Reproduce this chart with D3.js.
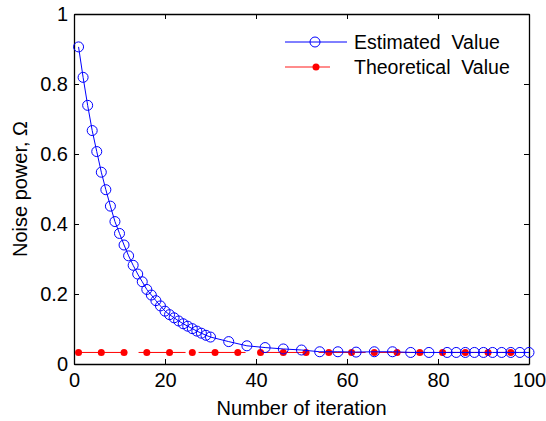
<!DOCTYPE html>
<html>
<head>
<meta charset="utf-8">
<script src="https://cdn.jsdelivr.net/npm/d3@7"></script>
<style>
  body { margin: 0; background: #fff; }
  text { font-family: "Liberation Sans", Arial, sans-serif; fill: #000; }
</style>
</head>
<body>
<svg id="chart"></svg>
<script>
// estimated noise power (markers as plotted)
var estX = [1,2,3,4,5,6,7,8,9,10,11,12,13,14,15,16,17,18,19,20,21,22,23,24,25,26,27,28,29,30,
            34,38,42,46,50,54,58,62,66,70,74,78,82,84,86,88,90,92,94,96,98,100]
var estY = [0.906,0.819,0.739,0.667,0.607,0.548,0.498,0.451,0.407,0.373,0.340,0.309,0.282,0.257,0.235,
            0.213,0.197,0.181,0.166,0.151,0.141,0.132,0.123,0.115,0.108,0.101,0.094,0.088,0.082,0.077,
            0.064,0.052,0.047,0.043,0.040,0.035,0.035,0.034,0.035,0.035,0.033,0.033,0.033,0.033,0.033,
            0.033,0.033,0.033,0.033,0.033,0.033,0.033]
// theoretical value
var theoX = [1,6,11,16,21,26,31,36,41,46,51,56,61,66,71,76,81,86,91,96]
var theoVal = 0.033

var xTicks = [0,20,40,60,80,100]
var yTicks = [0,0.2,0.4,0.6,0.8,1]
var legendNames = ["Estimated  Value", "Theoretical  Value"]

var width = 546, height = 421
var plot = {left: 74, right: 529, top: 14, bottom: 364}

var svg = d3.select("#chart").attr("width", width).attr("height", height)

var x = d3.scaleLinear().domain([0, 100]).range([plot.left, plot.right])
var y = d3.scaleLinear().domain([0, 1]).range([plot.bottom, plot.top])

var fmt = function(d){ return String(+d.toFixed(1)) }

// axes with inward ticks on all four sides
svg.append("g").attr("transform", "translate(0," + plot.bottom + ")")
  .call(d3.axisBottom(x).tickValues(xTicks).tickSizeInner(-5).tickSizeOuter(0).tickPadding(9))
svg.append("g").attr("transform", "translate(0," + plot.top + ")")
  .call(d3.axisTop(x).tickValues(xTicks).tickSizeInner(-5).tickSizeOuter(0).tickFormat(""))
svg.append("g").attr("transform", "translate(" + plot.left + ",0)")
  .call(d3.axisLeft(y).tickValues(yTicks).tickSizeInner(-5).tickSizeOuter(0).tickPadding(6).tickFormat(fmt))
svg.append("g").attr("transform", "translate(" + plot.right + ",0)")
  .call(d3.axisRight(y).tickValues(yTicks).tickSizeInner(-5).tickSizeOuter(0).tickFormat(""))

svg.selectAll(".domain").attr("stroke", "#000").attr("stroke-width", 1.3)
svg.selectAll(".tick line").attr("stroke", "#000")
svg.selectAll(".tick text").style("font-size", "20px").style("font-family", "Liberation Sans, Arial, sans-serif")

// theoretical line
var theoLine = d3.line().x(function(d){ return x(d) }).y(function(d){ return y(theoVal) })
svg.append("path").datum(theoX)
  .attr("d", theoLine)
  .attr("fill", "none").attr("stroke", "#ff0000").attr("stroke-width", 1)
  .attr("stroke-dasharray", "47,13")
svg.append("g").selectAll("circle").data(theoX).enter().append("circle")
  .attr("cx", function(d){ return x(d) })
  .attr("cy", y(theoVal))
  .attr("r", 3.5)
  .attr("fill", "#ff0000")

// estimated line
var estData = estX.map(function(d, i){ return [d, estY[i]] })
var estLine = d3.line().x(function(d){ return x(d[0]) }).y(function(d){ return y(d[1]) })
svg.append("path").datum(estData)
  .attr("d", estLine)
  .attr("fill", "none").attr("stroke", "#0000ff").attr("stroke-width", 1)
svg.append("g").selectAll("circle").data(estData).enter().append("circle")
  .attr("cx", function(d){ return x(d[0]) })
  .attr("cy", function(d){ return y(d[1]) })
  .attr("r", 5)
  .attr("fill", "none")
  .attr("stroke", "#0000ff")
  .attr("stroke-width", 1)

// legend
var leg = svg.append("g")
leg.append("line").attr("x1", 285).attr("x2", 347).attr("y1", 42).attr("y2", 42)
  .attr("stroke", "#0000ff").attr("stroke-width", 1)
leg.append("circle").attr("cx", 315).attr("cy", 42).attr("r", 5)
  .attr("fill", "none").attr("stroke", "#0000ff")
leg.append("line").attr("x1", 285).attr("x2", 330).attr("y1", 67).attr("y2", 67)
  .attr("stroke", "#ff6666").attr("stroke-width", 1.5)
leg.append("circle").attr("cx", 316).attr("cy", 67).attr("r", 3.5).attr("fill", "#ff0000")
leg.selectAll("text").data(legendNames).enter().append("text")
  .attr("x", 354)
  .attr("y", function(d, i){ return 42 + i * 25 })
  .attr("dy", "0.35em")
  .style("font-size", "19.5px")
  .style("white-space", "pre")
  .text(function(d){ return d })

// axis titles
svg.append("text")
  .attr("x", (plot.left + plot.right) / 2)
  .attr("y", 415)
  .attr("text-anchor", "middle")
  .style("font-size", "20px")
  .text("Number of iteration")
svg.append("text")
  .attr("transform", "translate(27,189) rotate(-90)")
  .attr("text-anchor", "middle")
  .style("font-size", "20px")
  .text("Noise power,  Ω")
</script>
</body>
</html>
